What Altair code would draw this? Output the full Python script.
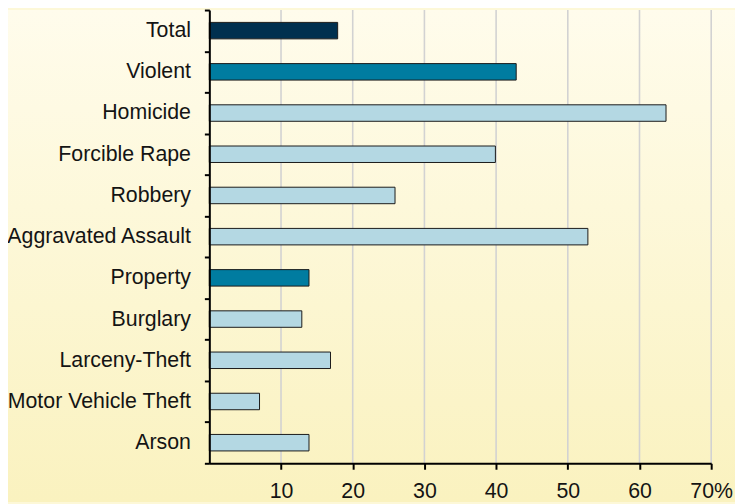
import altair as alt
import pandas as pd

categories = ["Total", "Violent", "Homicide", "Forcible Rape", "Robbery",
              "Aggravated Assault", "Property", "Burglary", "Larceny-Theft",
              "Motor Vehicle Theft", "Arson"]
values = [17.9, 42.8, 63.7, 39.9, 25.9, 52.8, 13.9, 12.9, 16.9, 7.0, 13.9]
levels = ["total", "group", "offense", "offense", "offense", "offense",
          "group", "offense", "offense", "offense", "offense"]
level_names = ["total", "group", "offense"]
level_colors = ["#00304f", "#007ca0", "#b4d8e3"]
x_ticks = [10, 20, 30, 40, 50, 60, 70]

df = pd.DataFrame({"category": categories, "value": values, "level": levels})
grid_df = pd.DataFrame({"value": x_ticks})

W, H = 506, 457
PAD = {"left": 203, "top": 0, "right": 24, "bottom": 39}
FONT = "Liberation Sans"
FS = 21.5

xscale = alt.Scale(domain=[0, 70], nice=False)
xaxis = alt.Axis(values=x_ticks, title=None, grid=False,
                 labelExpr="datum.value == 70 ? '70%' : datum.label",
                 domainColor="black", domainWidth=2,
                 tickColor="black", tickWidth=2, tickSize=6,
                 labelFontSize=FS, labelFont=FONT, labelLimit=0,
                 labelFlush=False, labelOverlap=False,
                 labelColor="#141414", labelPadding=12, zindex=1)

bg = alt.Chart(pd.DataFrame({"a": [0]})).mark_rect(
    clip=False,
    fill=alt.Gradient(
        gradient="linear",
        stops=[alt.GradientStop(color="#fffcec", offset=0),
               alt.GradientStop(color="#faf2bf", offset=1)],
        x1=0, x2=0, y1=0, y2=1,
    ),
).encode(
    x=alt.value(-PAD["left"]), x2=alt.value(W + PAD["right"]),
    y=alt.value(0), y2=alt.value(H + PAD["bottom"]),
)

grid = alt.Chart(grid_df).mark_rule(color="#d2d2d2", strokeWidth=1.6).encode(
    x=alt.X("value:Q", scale=xscale, axis=xaxis),
    y=alt.value(0), y2=alt.value(H),
)

bars = alt.Chart(df).mark_bar(
    stroke="#1a1a1a", strokeWidth=1, height=alt.RelativeBandSize(0.4)
).encode(
    y=alt.Y("category:N", sort=categories,
            scale=alt.Scale(paddingInner=0, paddingOuter=0),
            axis=alt.Axis(title=None, grid=False, domainColor="black",
                          domainWidth=2, tickBand="extent", tickColor="black",
                          tickWidth=2, tickSize=5, labelFontSize=FS,
                          labelFont=FONT, labelColor="#141414", labelLimit=0,
                          labelPadding=14, zindex=1)),
    x=alt.X("value:Q", scale=xscale, axis=xaxis),
    color=alt.Color("level:N",
                    scale=alt.Scale(domain=level_names, range=level_colors),
                    legend=None),
)

chart = alt.layer(bg, grid, bars).properties(
    width=W, height=H,
    autosize=alt.AutoSizeParams(type="none"),
    padding=PAD,
    background="#fdf8d8",
).configure_view(strokeWidth=0)

chart.save("out.html", embed_options={"renderer": "svg", "actions": False})
